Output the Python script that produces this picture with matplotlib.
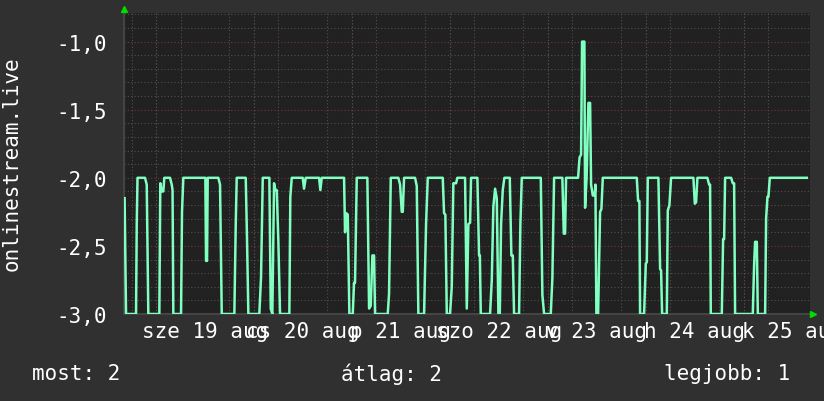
import matplotlib
matplotlib.use('Agg')
from matplotlib import pyplot as plt
from matplotlib.lines import Line2D
from matplotlib.ticker import FuncFormatter, MultipleLocator

# hours since 19 aug 00:00, and the value
hours = [-7.7, -7.35, -4.90, -4.73, -4.54, -2.70, -2.28, -1.89, 0.81, 1.05,
         1.40, 1.79, 2.03, 3.43, 3.85, 4.05, 4.24, 6.13, 6.37, 6.69,
         12.09, 12.26, 12.50, 12.67, 15.27, 15.69, 16.11, 19.20, 19.54, 19.78,
         21.99, 22.31, 22.63, 25.32, 25.74, 26.16, 27.78, 28.12, 28.51, 28.93,
         29.25, 29.59, 29.98, 30.40, 32.68, 32.92, 33.27, 35.96, 36.28, 36.70,
         39.96, 40.28, 40.62, 46.09, 46.33, 46.65, 47.00, 47.39, 48.22, 48.54,
         48.78, 49.20, 51.80, 52.22, 52.63, 53.03, 53.44, 53.69, 56.80, 57.12,
         57.54, 59.40, 59.82, 60.23, 60.48, 60.80, 63.49, 63.91, 64.30, 65.70,
         66.19, 66.61, 70.28, 70.60, 70.92, 71.27, 72.07, 72.49, 72.88, 73.55,
         73.86, 75.75, 76.17, 76.56, 76.98, 77.22, 78.77, 79.18, 79.38, 79.60,
         81.88, 82.30, 82.69, 83.11, 83.52, 83.92, 84.26, 84.58, 84.99, 85.39,
         86.71, 87.10, 87.45, 87.76, 88.99, 89.31, 89.65, 94.31, 94.70, 95.12,
         96.76, 97.15, 97.57, 99.60, 99.95, 100.27, 100.51, 103.45, 103.82, 104.19,
         104.43, 105.00, 105.17, 105.54, 105.98, 106.40, 106.64, 107.06, 107.50, 107.70,
         107.94, 108.36, 108.85, 109.17, 109.51, 117.84, 118.16, 118.48, 118.65, 119.63,
         120.05, 120.29, 120.54, 123.14, 123.56, 123.80, 124.05, 125.20, 125.44, 125.84,
         126.25, 131.72, 132.06, 132.38, 132.70, 135.15, 135.57, 135.81, 135.98, 138.68,
         139.00, 139.25, 139.49, 140.96, 141.38, 141.70, 141.94, 146.28, 146.60, 146.84,
         147.26, 147.51, 149.30, 149.54, 149.87, 150.11, 150.45, 159.51]
values = [-2.15, -3.0, -3.0, -2.34, -2.0, -2.0, -2.05, -3.0, -3.0, -2.04,
          -2.1, -2.1, -2.0, -2.0, -2.05, -2.09, -3.0, -3.0, -2.25, -2.0,
          -2.0, -2.61, -2.61, -2.0, -2.0, -2.05, -3.0, -3.0, -2.34, -2.0,
          -2.0, -2.46, -3.0, -3.0, -2.73, -2.0, -2.0, -2.96, -3.0, -2.04,
          -2.09, -2.09, -2.46, -3.0, -3.0, -2.14, -2.0, -2.0, -2.08, -2.0,
          -2.0, -2.09, -2.0, -2.0, -2.4, -2.26, -2.27, -3.0, -3.0, -2.77,
          -2.77, -2.0, -2.0, -2.96, -2.94, -2.57, -2.57, -3.0, -3.0, -2.85,
          -2.0, -2.0, -2.05, -2.25, -2.25, -2.0, -2.0, -2.06, -3.0, -3.0,
          -2.34, -2.0, -2.0, -2.26, -2.27, -3.0, -3.0, -2.8, -2.04, -2.04,
          -2.0, -2.0, -2.96, -2.34, -2.33, -2.0, -2.0, -2.57, -2.57, -3.0,
          -3.0, -2.75, -2.21, -2.08, -2.15, -3.0, -3.0, -2.34, -2.09, -2.0,
          -2.0, -2.57, -2.57, -3.0, -3.0, -2.34, -2.0, -2.0, -2.86, -3.0,
          -3.0, -2.74, -2.0, -2.0, -2.41, -2.41, -2.0, -2.0, -1.85, -1.83,
          -1.0, -1.0, -2.22, -2.0, -1.45, -1.45, -2.05, -2.13, -2.13, -2.05,
          -3.0, -3.0, -2.25, -2.23, -2.0, -2.0, -2.17, -2.17, -3.0, -3.0,
          -2.63, -2.62, -2.0, -2.0, -2.67, -2.68, -3.0, -3.0, -2.24, -2.2,
          -2.0, -2.0, -2.19, -2.18, -2.0, -2.0, -2.05, -2.05, -3.0, -3.0,
          -2.45, -2.45, -2.0, -2.0, -2.04, -2.04, -3.0, -3.0, -2.64, -2.47,
          -2.47, -3.0, -3.0, -2.3, -2.14, -2.14, -2.0, -2.0]

day_labels = ['sze 19 aug', 'cs 20 aug', 'p 21 aug', 'szo 22 aug',
              'v 23 aug', 'h 24 aug', 'k 25 aug']
legend_items = ['most: 2', 'átlag: 2', 'legjobb: 1']
ylabel = 'onlinestream.live'

bg = '#303030'
plot_bg = '#212121'
line_col = '#80ffc0'
fnt = 'DejaVu Sans Mono'
fs = 15

plt.rcParams['font.family'] = fnt
fig = plt.figure(figsize=(8.24, 4.02), dpi=100, facecolor=bg)
ax = fig.add_axes([124/824, 1 - 315/402, 686/824, 301/402])
ax.set_facecolor(plot_bg)

# grid: minor grey, day / half-unit lines red
ax.xaxis.set_minor_locator(MultipleLocator(6))
ax.yaxis.set_minor_locator(MultipleLocator(0.1))
ax.grid(which='minor', color='#505050', linestyle=(0, (1, 2)), linewidth=0.8)
for d in range(0, 168, 24):
    ax.axvline(d, color='#733636', linestyle=(0, (1, 2)), linewidth=0.8, zorder=1)
for v in [-2.5, -2.0, -1.5, -1.0]:
    ax.axhline(v, color='#733636', linestyle=(0, (1, 2)), linewidth=0.8, zorder=1)

ax.plot(hours, values, color=line_col, linewidth=1.8, zorder=3)

ax.set_xlim(-7.85, 160.3)
ax.set_ylim(-3.0, -0.79)

ax.set_xticks([12 + 24 * i for i in range(len(day_labels))])
ax.set_xticklabels(day_labels)
ax.set_yticks([-3.0, -2.5, -2.0, -1.5, -1.0])
ax.yaxis.set_major_formatter(FuncFormatter(lambda v, p: f'{v:.1f}'.replace('.', ',')))
ax.tick_params(axis='both', which='both', length=0, colors='white', labelsize=fs)
ax.tick_params(axis='y', pad=12)
ax.tick_params(axis='x', pad=5)

for s in ['top', 'right']:
    ax.spines[s].set_visible(False)
for s in ['left', 'bottom']:
    ax.spines[s].set_color('#444444')
    ax.spines[s].set_linewidth(1.5)

fig.text(12/824, 1 - 164/402, ylabel, rotation=90, color='white', fontsize=fs,
         ha='center', va='center')

legend_x = [32, 341, 664]
for lx, txt in zip(legend_x, legend_items):
    fig.text(lx/824, 1 - 374/402, txt, color='white', fontsize=fs, ha='left', va='center')

# rrdtool style axis arrows
fig.add_artist(Line2D([124/824], [1 - 10/402], marker='^', color='#00dd00',
                      markersize=5, transform=fig.transFigure))
fig.add_artist(Line2D([813/824], [1 - 315/402], marker='>', color='#00dd00',
                      markersize=5, transform=fig.transFigure))

fig.savefig('out.png', dpi=100, facecolor=bg)
